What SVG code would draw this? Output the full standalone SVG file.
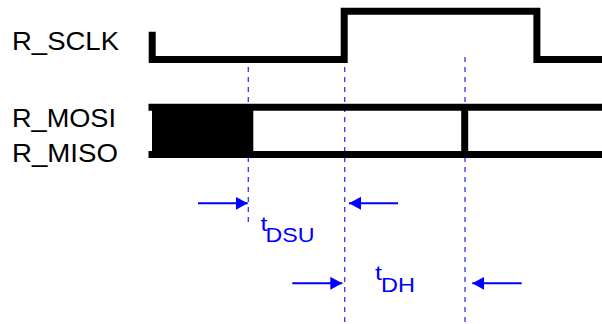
<svg xmlns="http://www.w3.org/2000/svg" width="602" height="324" viewBox="0 0 602 324">
<defs>
<style>
.lbl{font-family:"Liberation Sans",Arial,sans-serif;font-size:25px;fill:#000}
.tm{font-family:"Liberation Sans",Arial,sans-serif;font-size:21px;fill:#0000ff}
.sig{fill:none;stroke:#000;stroke-width:7;stroke-linejoin:miter}
.dash{fill:none;stroke:#3333ff;stroke-width:1.3;stroke-dasharray:5 5}
.arr{fill:none;stroke:#0000ff;stroke-width:2}
</style>
<marker id="ah" markerUnits="userSpaceOnUse" markerWidth="13" markerHeight="14" refX="12" refY="6.5" orient="auto">
<path d="M0,0 L12,6.5 L0,13 z" fill="#0000ff"/>
</marker>
</defs>
<rect width="602" height="324" fill="#fff"/>
<g id="guides">
<line class="dash" x1="248.3" y1="67" x2="248.3" y2="226"/>
<line class="dash" x1="344.7" y1="67" x2="344.7" y2="324"/>
<line class="dash" x1="465" y1="57" x2="465" y2="324"/>
</g>
<g id="R_SCLK">
<text class="lbl" x="12" y="50" textLength="107" lengthAdjust="spacingAndGlyphs">R_SCLK</text>
<path class="sig" d="M152.2,31.7 V59.5 H344.2 V11.2 H536.9 V59.5 H602"/>
</g>
<g id="R_MOSI_MISO">
<text class="lbl" x="12" y="126.5" textLength="104" lengthAdjust="spacingAndGlyphs">R_MOSI</text>
<text class="lbl" x="12" y="161.5" textLength="106" lengthAdjust="spacingAndGlyphs">R_MISO</text>
<rect x="152" y="104" width="101.3" height="54" fill="#000"/>
<line class="sig" x1="148.5" y1="107.2" x2="602" y2="107.2"/>
<line class="sig" x1="148.5" y1="154.5" x2="602" y2="154.5"/>
<line class="sig" x1="464.7" y1="107" x2="464.7" y2="155"/>
</g>
<g id="connectors">
<line class="arr" x1="198" y1="203.3" x2="247.7" y2="203.3" marker-end="url(#ah)"/>
<line class="arr" x1="398" y1="203.3" x2="349" y2="203.3" marker-end="url(#ah)"/>
<line class="arr" x1="292.3" y1="283.3" x2="342.3" y2="283.3" marker-end="url(#ah)"/>
<line class="arr" x1="521.7" y1="283.3" x2="472.3" y2="283.3" marker-end="url(#ah)"/>
</g>
<g id="tDSU">
<text class="tm" x="260.5" y="231" textLength="7" lengthAdjust="spacingAndGlyphs">t</text>
<text class="tm" x="265.5" y="242" textLength="49" lengthAdjust="spacingAndGlyphs">DSU</text>
</g>
<g id="tDH">
<text class="tm" x="375" y="280" textLength="7" lengthAdjust="spacingAndGlyphs">t</text>
<text class="tm" x="381" y="291.5" textLength="34" lengthAdjust="spacingAndGlyphs">DH</text>
</g>
</svg>
